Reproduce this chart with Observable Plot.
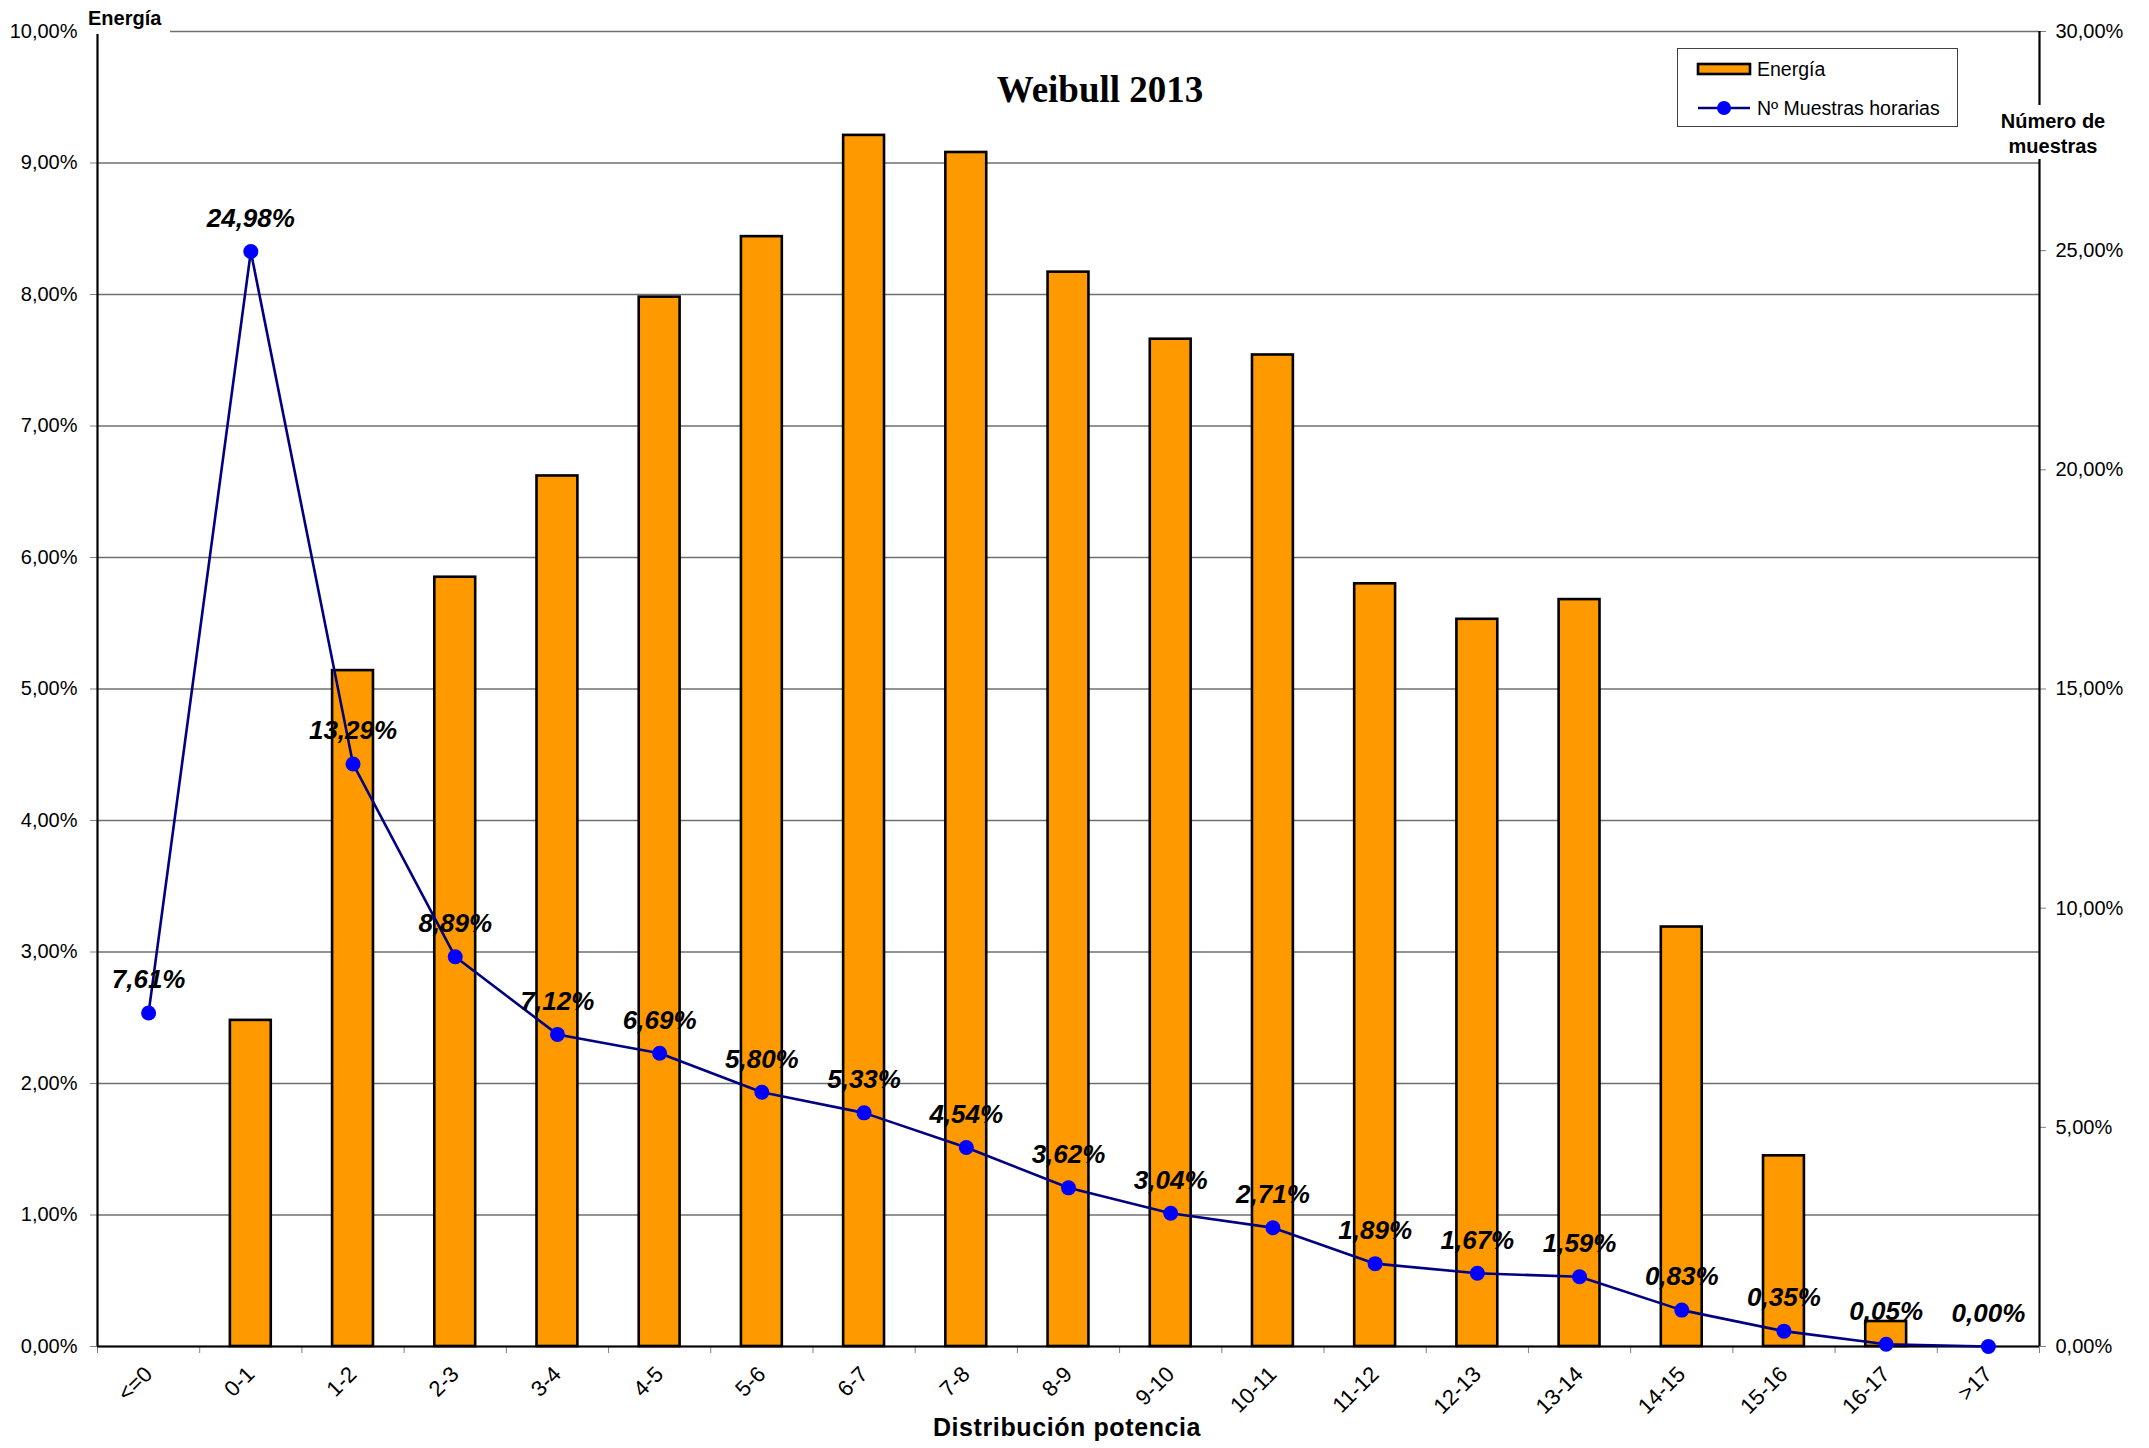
<!DOCTYPE html>
<html>
<head>
<meta charset="utf-8">
<script src="https://cdn.jsdelivr.net/npm/d3@7"></script>
<script src="https://cdn.jsdelivr.net/npm/@observablehq/plot@0.6"></script>
<style>
  html, body { margin: 0; padding: 0; background: #fff; }
  #wrap { position: relative; width: 2149px; height: 1448px; background: #fff; font-family: "Liberation Sans", Arial, sans-serif; color: #000; }
  .ov { position: absolute; white-space: nowrap; }
</style>
</head>
<body>
<div id="wrap"></div>
<script>
const categories = ["<=0","0-1","1-2","2-3","3-4","4-5","5-6","6-7","7-8","8-9","9-10","10-11","11-12","12-13","13-14","14-15","15-16","16-17",">17"];
const energia   = [0, 2.48, 5.14, 5.85, 6.62, 7.98, 8.44, 9.21, 9.08, 8.17, 7.66, 7.54, 5.80, 5.53, 5.68, 3.19, 1.45, 0.19, 0];
const muestras  = [7.61, 24.98, 13.29, 8.89, 7.12, 6.69, 5.80, 5.33, 4.54, 3.62, 3.04, 2.71, 1.89, 1.67, 1.59, 0.83, 0.35, 0.05, 0.00];
const leftTicks  = [0,1,2,3,4,5,6,7,8,9,10];
const rightTicks = [0,5,10,15,20,25,30];
const seriesNames = ["Energía", "Nº Muestras horarias"];
const titleText = "Weibull 2013";
const xTitle = "Distribución potencia";
const yLeftTitle = "Energía";
const yRightTitle = ["Número de", "muestras"];

const ratio = 3; // right axis (0–30%) mapped onto left axis (0–10%)
const fmt = v => v.toFixed(2).replace(".", ",") + "%";
const data = categories.map((c, i) => ({i, c, e: energia[i], m: muestras[i]}));
const boundaries = d3.range(categories.length + 1).map(k => k - 0.5);

const chart = Plot.plot({
  width: 2149, height: 1448,
  marginLeft: 97, marginRight: 110, marginTop: 31, marginBottom: 102,
  x: {type: "linear", domain: [-0.5, categories.length - 0.5]},
  y: {domain: [0, 10]},
  style: {fontFamily: "'Liberation Sans', Arial, sans-serif", fontSize: "20px", color: "#000", background: "#fff", overflow: "visible"},
  marks: [
    Plot.gridY(leftTicks, {stroke: "#6f6f6f", strokeOpacity: 1, strokeWidth: 1.4}),
    Plot.axisY(leftTicks, {anchor: "left", tickSize: 7, tickPadding: 13, tickFormat: fmt, label: null, stroke: "#808080", fontSize: 20}),
    Plot.axisY(rightTicks.map(v => v / ratio), {anchor: "right", tickSize: 6, tickPadding: 10, tickFormat: d => fmt(d * ratio), label: null, stroke: "#808080", fontSize: 20}),
    Plot.axisX(boundaries, {anchor: "bottom", tickSize: 7, tickFormat: () => "", label: null, stroke: "#808080"}),
    Plot.axisX(data.map(d => d.i), {anchor: "bottom", tickSize: 0, tickPadding: 24, tickRotate: -45, tickFormat: i => categories[i], label: null, fontSize: 22}),
    Plot.rectY(data.filter(d => d.e > 0), {x1: d => d.i - 0.2, x2: d => d.i + 0.2, y: "e", fill: "#FF9900", stroke: "#000", strokeWidth: 2.6}),
    Plot.ruleY([0], {stroke: "#000", strokeWidth: 2.2}),
    Plot.ruleX([-0.5], {stroke: "#000", strokeWidth: 2.2}),
    Plot.ruleX([categories.length - 0.5], {stroke: "#000", strokeWidth: 2.2}),
    Plot.line(data, {x: "i", y: d => d.m / ratio, stroke: "#000080", strokeWidth: 2.6}),
    Plot.dot(data, {x: "i", y: d => d.m / ratio, r: 7.5, fill: "#0000FF", stroke: "none"}),
    Plot.text(data, {x: "i", y: d => d.m / ratio, text: d => fmt(d.m), dy: -33, lineAnchor: "middle", fontSize: 26, fontWeight: "bold", fontStyle: "italic", fill: "#000"})
  ]
});
const wrap = document.getElementById("wrap");
wrap.appendChild(chart);

function ov(html, css) {
  const d = document.createElement("div");
  d.className = "ov";
  d.innerHTML = html;
  Object.assign(d.style, css);
  wrap.appendChild(d);
  return d;
}
// left axis title
ov(yLeftTitle, {left: "84px", top: "5px", padding: "0 9px 3px 4px", background: "#fff", fontWeight: "bold", fontSize: "20px", lineHeight: "26px"});
// right axis title
ov(yRightTitle.join("<br>"), {left: "1981px", top: "105px", width: "144px", textAlign: "center", background: "#fff", fontWeight: "bold", fontSize: "20px", lineHeight: "25px", padding: "4px 0 0 0"});
// chart title
ov(titleText, {left: "850px", width: "500px", top: "67px", textAlign: "center", fontFamily: "'Liberation Serif', 'Times New Roman', serif", fontWeight: "bold", fontSize: "37px", lineHeight: "46px"});
// x title
ov(xTitle, {left: "767px", width: "600px", top: "1411px", textAlign: "center", fontWeight: "bold", fontSize: "25px", letterSpacing: "0.6px", lineHeight: "32px"});
// legend
ov(`
  <svg width="281" height="79" style="position:absolute;left:0;top:0">
    <rect x="20" y="15" width="52" height="10" fill="#FF9900" stroke="#000" stroke-width="2.6"/>
    <line x1="20" y1="59" x2="72" y2="59" stroke="#000080" stroke-width="2.6"/>
    <circle cx="46" cy="59" r="7" fill="#0000FF"/>
  </svg>
  <div style="position:absolute;left:79px;top:7px;font-size:19.5px;line-height:26px">${seriesNames[0]}</div>
  <div style="position:absolute;left:79px;top:46px;font-size:19.5px;line-height:26px">${seriesNames[1]}</div>
`, {left: "1677px", top: "48px", width: "281px", height: "79px", border: "1.3px solid #404040", background: "#fff", boxSizing: "border-box"});
</script>
</body>
</html>
